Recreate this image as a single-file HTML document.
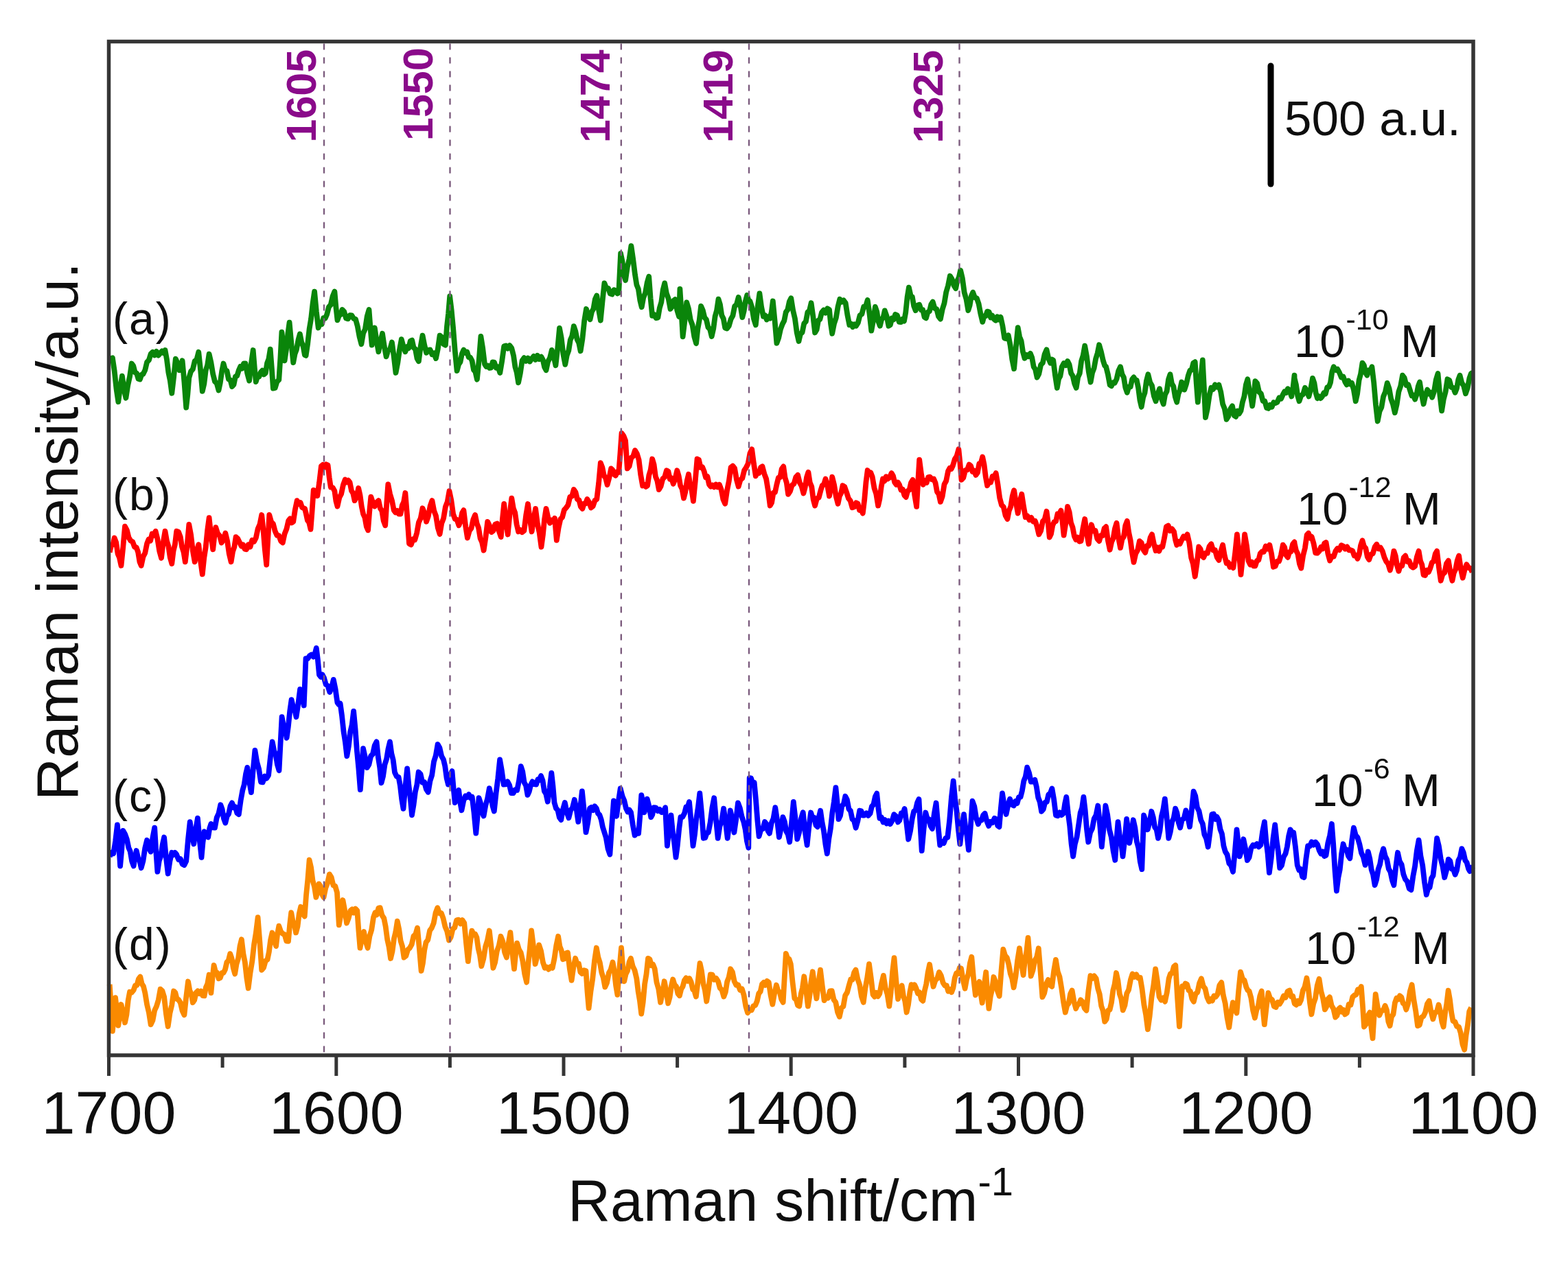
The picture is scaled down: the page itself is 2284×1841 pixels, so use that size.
<!DOCTYPE html>
<html><head><meta charset="utf-8"><title>Raman spectra</title>
<style>html,body{margin:0;padding:0;background:#fff;}svg{display:block;}</style>
</head><body>
<svg width="2284" height="1841" viewBox="0 0 2284 1841">
<rect width="2284" height="1841" fill="#fff"/>
<g>
<path d="M161.1,522.6 L163.9,521.2 L166.7,540.4 L169.5,566.4 L172.3,585.2 L175.1,564.2 L177.9,547.6 L180.6,566.8 L183.4,579.7 L186.2,561.5 L189.0,548.6 L191.8,529.5 L194.2,532.8 L196.7,542.4 L199.1,543.7 L201.5,551.8 L203.9,552.5 L206.2,545.7 L208.5,544.8 L211.3,539.1 L214.1,527.4 L216.9,524.5 L219.6,515.6 L222.4,512.8 L225.2,517.4 L228.0,511.9 L230.8,517.6 L233.6,514.2 L235.9,511.3 L238.2,514.0 L240.5,510.0 L243.0,523.8 L245.4,542.8 L247.8,554.3 L250.3,572.7 L253.1,549.2 L255.8,522.6 L258.6,528.9 L261.4,539.3 L263.5,534.2 L265.6,525.3 L268.4,556.2 L271.2,593.6 L273.3,574.9 L275.3,550.4 L278.1,540.9 L280.9,537.7 L283.7,525.9 L286.5,523.8 L289.3,512.8 L292.1,539.0 L294.8,569.9 L297.3,559.2 L299.7,539.6 L302.2,531.6 L304.6,515.6 L307.4,527.9 L310.2,544.8 L313.0,555.7 L315.7,558.3 L318.5,568.5 L320.8,557.5 L323.2,540.5 L325.5,529.5 L328.0,538.7 L330.5,540.1 L333.0,552.4 L335.5,553.3 L338.0,563.0 L340.5,560.1 L342.9,548.5 L345.3,547.4 L347.8,539.3 L350.2,533.9 L352.6,536.6 L355.1,529.3 L357.5,529.5 L360.3,543.9 L363.1,554.6 L365.9,529.5 L368.7,510.0 L370.8,535.6 L372.8,556.0 L375.2,548.0 L377.5,548.5 L379.8,542.1 L382.1,539.7 L384.4,545.4 L386.8,543.5 L389.1,528.9 L391.4,522.8 L393.7,508.6 L395.8,535.7 L397.9,565.7 L400.7,565.0 L403.5,555.9 L406.3,553.2 L408.4,521.5 L410.4,483.6 L412.5,501.5 L414.6,525.3 L416.9,509.8 L419.3,486.6 L421.6,469.6 L424.4,500.3 L427.2,528.1 L429.6,515.4 L432.0,508.9 L434.5,495.1 L436.9,486.4 L439.2,498.4 L441.6,504.3 L443.9,517.0 L445.6,517.9 L448.1,501.1 L450.6,479.1 L453.1,464.1 L455.6,441.7 L458.1,424.6 L460.9,454.2 L463.7,477.5 L466.2,470.7 L468.7,472.2 L471.2,463.2 L473.7,463.6 L476.2,458.0 L479.0,447.0 L481.8,443.9 L484.6,431.4 L487.4,424.6 L489.4,447.3 L491.5,466.4 L493.9,459.5 L496.2,458.2 L498.5,451.0 L501.3,454.0 L504.1,463.6 L506.9,464.4 L509.6,459.2 L512.4,459.4 L515.2,464.1 L518.0,465.0 L520.8,475.3 L523.6,490.6 L526.4,501.2 L529.1,485.4 L531.9,479.3 L534.7,460.8 L537.5,451.0 L539.6,478.7 L541.7,502.6 L543.8,486.5 L545.8,477.5 L548.6,497.0 L551.4,512.3 L554.2,497.4 L557.0,485.8 L559.8,504.5 L562.6,519.3 L565.3,510.5 L568.1,508.8 L570.9,498.4 L573.7,519.1 L576.5,543.0 L579.3,528.6 L582.1,508.6 L584.8,494.2 L587.6,504.7 L590.4,512.3 L592.9,505.0 L595.3,507.0 L597.7,496.8 L600.2,495.6 L602.6,506.5 L605.0,508.3 L607.5,522.0 L609.9,526.2 L612.7,504.4 L615.5,488.6 L618.3,502.8 L621.1,513.7 L623.8,509.8 L626.6,509.5 L629.4,516.3 L632.2,514.4 L635.0,522.1 L637.8,508.2 L640.6,488.6 L643.3,490.8 L646.1,501.3 L648.9,502.6 L651.0,475.5 L653.1,456.6 L655.2,431.5 L657.6,451.1 L660.1,477.5 L662.8,511.4 L665.6,540.2 L668.1,530.7 L670.5,527.3 L672.9,515.3 L675.4,509.5 L677.8,514.0 L680.3,512.5 L682.7,520.3 L685.1,520.7 L687.6,525.5 L690.0,538.9 L692.4,541.4 L694.9,552.7 L697.7,524.6 L700.4,490.0 L703.2,507.2 L706.0,530.4 L708.3,534.0 L710.7,532.5 L713.0,536.0 L715.3,535.6 L717.6,527.5 L719.9,527.6 L722.7,535.7 L725.5,534.4 L728.3,543.0 L731.2,525.9 L734.2,504.3 L737.0,503.5 L739.7,507.6 L742.5,503.2 L745.3,507.1 L748.1,518.3 L750.4,534.5 L752.7,542.3 L755.1,557.3 L757.9,543.4 L760.6,525.2 L763.4,521.2 L766.2,525.9 L769.0,521.5 L771.8,526.5 L774.6,522.5 L777.4,518.8 L780.1,523.9 L782.9,517.7 L785.7,523.1 L788.5,519.7 L790.8,524.1 L793.1,534.7 L795.5,539.2 L798.2,526.5 L801.0,521.4 L803.8,509.9 L806.6,519.1 L809.4,532.2 L812.2,507.9 L815.0,477.9 L817.7,492.2 L820.5,516.5 L823.3,530.8 L825.8,517.4 L828.3,510.7 L830.8,495.0 L833.3,489.4 L835.8,475.1 L838.3,482.6 L840.7,494.6 L843.2,499.5 L845.6,511.3 L848.4,493.7 L851.2,467.0 L854.0,450.0 L856.7,459.7 L859.5,465.3 L862.0,454.1 L864.4,449.9 L866.8,435.9 L869.3,430.5 L872.1,451.3 L874.8,466.7 L877.6,438.0 L880.4,412.4 L883.2,419.7 L886.0,419.8 L888.8,427.7 L891.6,428.7 L894.3,422.2 L897.1,423.6 L899.2,427.4 L901.3,426.4 L904.1,369.2 L906.4,380.1 L908.7,397.9 L911.1,408.2 L913.8,389.1 L916.6,377.4 L919.4,358.1 L922.2,377.5 L925.0,399.9 L927.4,414.8 L929.9,421.2 L932.3,437.5 L934.7,447.2 L937.3,433.4 L940.0,426.6 L942.6,411.8 L945.2,402.7 L947.6,434.6 L950.1,459.8 L952.8,458.0 L955.6,463.2 L958.4,462.6 L960.8,448.6 L963.3,440.2 L965.7,422.3 L968.2,412.4 L970.9,427.4 L973.7,435.1 L976.5,450.0 L978.8,447.0 L981.2,437.9 L983.5,436.1 L986.3,451.9 L989.1,461.2 L990.4,420.8 L992.5,453.2 L994.6,490.4 L997.4,467.5 L1000.2,440.3 L1003.0,449.7 L1005.8,466.0 L1008.6,473.4 L1011.3,490.5 L1014.1,500.2 L1016.4,478.7 L1018.8,465.8 L1021.1,445.8 L1023.7,451.7 L1026.3,462.5 L1028.9,465.6 L1031.5,476.8 L1034.1,479.4 L1036.7,490.0 L1039.2,478.9 L1041.6,460.8 L1044.0,452.3 L1046.5,435.7 L1048.9,443.4 L1051.3,459.3 L1053.8,464.3 L1056.2,477.5 L1059.0,478.5 L1061.8,474.7 L1064.6,464.9 L1067.4,459.9 L1070.1,446.2 L1072.9,443.6 L1075.7,432.9 L1078.5,444.9 L1081.3,462.2 L1083.6,453.3 L1085.9,438.6 L1088.2,430.1 L1090.3,437.2 L1092.4,438.5 L1095.2,447.1 L1098.0,464.3 L1100.8,473.3 L1103.6,447.5 L1106.4,427.4 L1109.1,447.1 L1111.9,460.8 L1114.4,459.4 L1116.8,465.5 L1119.2,461.4 L1121.7,463.6 L1123.8,454.4 L1125.8,438.5 L1128.6,467.3 L1131.4,499.8 L1134.2,492.2 L1137.0,479.5 L1139.8,471.9 L1142.3,467.1 L1144.8,454.5 L1147.3,451.1 L1149.8,439.2 L1152.3,434.3 L1155.1,451.9 L1157.9,463.8 L1160.7,484.4 L1163.5,497.0 L1166.0,486.2 L1168.6,484.1 L1171.2,471.2 L1173.8,468.4 L1176.4,454.8 L1179.0,452.6 L1181.6,441.3 L1184.3,460.5 L1187.1,484.5 L1189.6,480.3 L1192.0,466.8 L1194.4,465.1 L1196.9,455.2 L1199.7,451.7 L1202.5,455.7 L1205.2,449.3 L1208.0,451.0 L1210.1,471.9 L1212.2,485.8 L1215.0,471.6 L1217.8,463.0 L1220.6,446.5 L1223.3,435.7 L1226.1,439.7 L1228.9,437.5 L1231.7,441.3 L1234.5,459.3 L1237.3,473.3 L1239.7,471.6 L1242.1,476.3 L1244.6,472.3 L1247.0,474.7 L1249.8,470.2 L1252.6,459.3 L1255.4,457.5 L1258.2,446.6 L1260.9,446.6 L1263.7,437.1 L1266.5,456.9 L1269.3,481.7 L1272.1,466.2 L1274.9,446.9 L1277.2,453.7 L1279.5,468.5 L1281.8,474.7 L1284.2,465.1 L1286.5,462.4 L1288.8,452.4 L1291.6,460.5 L1294.4,474.7 L1296.8,473.2 L1299.2,463.5 L1301.7,465.4 L1304.1,458.0 L1306.9,459.3 L1309.7,468.8 L1312.5,469.1 L1314.7,464.9 L1317.0,467.5 L1319.3,454.7 L1321.6,432.7 L1323.9,418.7 L1326.4,429.9 L1328.8,432.3 L1331.2,445.9 L1333.7,452.2 L1336.5,444.7 L1339.2,443.8 L1341.7,451.3 L1344.1,451.1 L1346.6,461.9 L1349.0,463.3 L1351.4,454.7 L1353.9,453.3 L1356.3,443.3 L1358.7,439.6 L1361.5,449.1 L1364.3,450.1 L1367.1,461.0 L1369.9,464.7 L1372.7,450.7 L1375.5,441.6 L1378.2,425.5 L1381.0,416.1 L1383.8,402.0 L1386.6,406.3 L1389.4,415.7 L1392.2,420.1 L1394.5,408.6 L1396.8,403.9 L1399.1,393.7 L1401.9,405.5 L1404.7,426.1 L1407.5,435.7 L1410.3,452.2 L1412.6,444.9 L1414.9,431.1 L1417.2,425.7 L1420.0,433.5 L1422.8,434.2 L1425.6,442.4 L1428.4,457.2 L1431.2,468.9 L1433.5,460.4 L1435.8,460.3 L1438.1,453.6 L1440.6,454.2 L1443.0,462.4 L1445.4,459.7 L1447.9,464.7 L1450.3,466.7 L1452.8,461.2 L1455.2,465.5 L1457.6,461.9 L1460.4,474.5 L1463.2,492.6 L1466.0,493.2 L1468.8,488.4 L1471.6,502.9 L1474.3,523.4 L1477.1,537.1 L1479.9,505.5 L1482.7,477.2 L1485.1,490.3 L1487.6,496.7 L1490.0,512.6 L1492.5,521.8 L1495.2,516.8 L1498.0,519.2 L1500.8,514.8 L1503.2,520.7 L1505.7,534.4 L1508.1,537.9 L1510.6,549.7 L1513.3,544.6 L1516.1,531.4 L1518.9,528.5 L1521.7,515.7 L1524.5,509.3 L1527.3,522.0 L1530.1,528.8 L1532.1,523.4 L1534.2,524.6 L1537.0,546.7 L1539.8,565.0 L1542.1,551.8 L1544.4,547.8 L1546.8,534.3 L1549.6,529.0 L1552.3,532.0 L1555.1,526.0 L1557.6,531.0 L1560.1,543.6 L1562.6,547.5 L1565.2,558.8 L1567.7,565.0 L1570.2,549.4 L1572.7,543.9 L1575.2,525.6 L1577.7,517.7 L1580.2,503.7 L1583.0,519.2 L1585.8,541.5 L1588.6,556.6 L1591.1,542.8 L1593.6,536.4 L1596.1,522.6 L1598.6,514.6 L1601.1,502.3 L1604.0,512.6 L1607.0,525.8 L1609.1,532.3 L1611.1,534.2 L1613.9,545.5 L1616.7,560.7 L1619.0,562.1 L1621.4,557.3 L1623.7,557.9 L1626.5,552.1 L1629.2,540.1 L1632.0,534.2 L1634.5,545.1 L1636.9,549.5 L1639.3,564.5 L1641.8,571.8 L1644.2,563.3 L1646.7,563.3 L1649.1,552.5 L1651.5,549.5 L1653.6,553.1 L1655.7,553.7 L1658.0,564.3 L1660.4,582.8 L1662.7,592.7 L1665.1,579.0 L1667.5,572.2 L1670.0,554.4 L1672.4,545.3 L1675.2,556.9 L1678.0,561.8 L1680.8,576.6 L1683.6,584.3 L1686.4,573.6 L1689.1,566.2 L1691.9,580.6 L1694.7,588.5 L1697.1,574.7 L1699.6,569.9 L1702.0,552.7 L1704.5,545.3 L1706.9,558.6 L1709.3,562.7 L1711.8,577.9 L1714.2,585.7 L1716.5,573.5 L1718.8,567.9 L1721.2,556.5 L1723.3,559.2 L1725.3,567.6 L1728.1,559.0 L1730.9,546.7 L1733.4,539.5 L1735.8,538.7 L1738.2,528.8 L1740.7,527.2 L1742.8,559.4 L1744.8,585.7 L1747.2,562.3 L1749.5,547.5 L1751.8,524.5 L1753.9,564.8 L1756.0,608.0 L1758.8,595.3 L1761.6,576.1 L1764.3,564.8 L1767.1,566.9 L1769.9,560.4 L1772.7,563.7 L1775.5,560.7 L1778.3,571.1 L1781.1,588.5 L1783.8,595.2 L1786.6,610.8 L1789.4,606.2 L1792.2,595.8 L1795.0,591.3 L1797.8,605.2 L1800.2,606.8 L1802.6,598.6 L1805.1,602.4 L1807.5,598.3 L1810.0,585.3 L1812.4,577.4 L1814.8,560.7 L1817.3,552.3 L1819.6,567.1 L1821.9,576.7 L1824.2,591.3 L1826.3,576.1 L1828.4,555.1 L1831.2,558.3 L1834.0,570.9 L1836.8,573.2 L1839.6,584.0 L1842.3,584.2 L1845.1,594.1 L1847.6,594.9 L1850.1,589.7 L1852.6,592.7 L1855.2,586.1 L1857.7,587.1 L1860.4,586.0 L1863.2,579.4 L1866.0,580.8 L1868.8,574.6 L1871.1,570.3 L1873.4,571.9 L1875.8,566.2 L1878.6,569.3 L1881.3,577.4 L1883.4,565.4 L1885.5,546.7 L1885.6,550.9 L1887.9,560.1 L1890.2,576.4 L1892.5,584.3 L1895.3,576.0 L1898.1,574.3 L1900.9,564.8 L1903.7,569.7 L1906.5,577.4 L1909.2,566.8 L1912.0,550.9 L1914.4,557.7 L1916.7,572.4 L1919.0,580.2 L1921.3,577.3 L1923.6,580.1 L1926.0,577.4 L1928.4,572.2 L1930.8,573.6 L1933.3,564.1 L1935.7,563.5 L1938.0,557.2 L1940.4,541.2 L1942.7,534.2 L1945.5,538.9 L1948.2,537.6 L1951.0,542.6 L1953.8,549.5 L1956.6,548.6 L1959.4,556.5 L1961.8,560.3 L1964.3,554.6 L1966.7,559.5 L1969.1,557.9 L1971.9,567.8 L1974.7,584.3 L1977.1,573.6 L1979.6,553.7 L1982.0,544.8 L1984.5,528.6 L1986.8,531.9 L1989.1,543.0 L1991.4,546.7 L1993.7,539.2 L1996.1,540.6 L1998.4,534.2 L2001.2,557.4 L2004.0,589.9 L2006.7,613.6 L2009.5,599.2 L2012.3,593.3 L2015.1,577.4 L2017.9,570.7 L2020.7,557.9 L2023.5,565.7 L2026.2,580.9 L2029.0,588.7 L2031.8,601.1 L2034.6,589.2 L2037.4,570.4 L2040.2,562.2 L2043.0,546.7 L2045.7,550.4 L2048.5,561.1 L2051.3,560.3 L2054.1,569.0 L2056.4,576.3 L2058.7,575.5 L2061.1,581.6 L2063.4,575.0 L2065.7,562.9 L2068.0,556.5 L2070.8,574.4 L2073.6,588.5 L2076.4,575.6 L2079.2,567.6 L2081.5,573.8 L2083.8,571.6 L2086.1,578.8 L2088.9,570.6 L2091.7,553.4 L2094.5,544.0 L2097.3,574.6 L2100.1,598.3 L2102.8,581.5 L2105.6,570.8 L2108.4,552.3 L2111.2,553.9 L2114.0,563.9 L2116.8,564.7 L2119.6,571.8 L2121.9,565.9 L2124.2,553.1 L2126.5,546.7 L2129.3,557.7 L2132.1,561.9 L2134.9,573.2 L2137.7,564.9 L2140.4,550.9 L2142.9,543.9 L2145.3,542.6" fill="none" stroke="#0a850a" stroke-width="7.8" stroke-linejoin="round" stroke-linecap="butt"/>
<path d="M159.7,804.3 L162.1,793.9 L164.4,793.5 L166.7,783.5 L169.2,790.2 L171.6,806.7 L174.0,812.3 L176.5,823.8 L179.2,797.6 L182.0,766.7 L184.8,772.0 L187.6,783.2 L190.4,787.6 L193.2,789.1 L196.0,796.7 L198.7,797.4 L201.1,804.1 L203.4,818.2 L205.7,823.8 L208.5,810.9 L211.3,805.5 L214.1,791.8 L216.6,785.5 L219.1,787.5 L221.6,777.5 L224.1,779.5 L226.6,773.7 L229.4,785.0 L232.2,802.5 L235.0,812.7 L237.7,790.1 L240.5,773.7 L243.0,787.9 L245.4,795.6 L247.8,811.9 L250.3,821.1 L252.6,802.3 L254.9,792.9 L257.2,773.7 L260.0,774.7 L262.8,782.1 L265.1,796.6 L267.5,804.0 L269.8,818.3 L272.6,794.5 L275.3,764.0 L278.1,779.0 L280.9,802.5 L283.7,818.3 L286.5,802.4 L289.3,793.2 L292.1,817.3 L294.8,836.4 L297.3,812.4 L299.7,796.9 L302.2,772.2 L304.6,754.2 L307.4,779.8 L310.2,800.2 L312.3,781.4 L314.3,768.1 L317.1,777.1 L319.9,780.1 L322.7,790.4 L325.5,786.2 L328.3,776.5 L331.1,788.0 L333.8,806.6 L336.6,818.3 L339.0,803.6 L341.3,796.8 L343.6,782.1 L346.4,784.7 L349.2,790.4 L351.6,795.4 L354.0,793.3 L356.5,799.7 L358.9,800.2 L361.7,793.3 L364.5,796.4 L367.3,786.7 L370.1,788.7 L372.8,783.5 L375.6,770.4 L378.4,763.9 L381.2,750.0 L383.5,771.6 L385.8,800.2 L388.2,822.5 L390.3,784.8 L392.3,750.0 L395.1,760.1 L397.9,763.0 L400.7,773.7 L403.5,779.8 L406.3,780.2 L409.1,788.0 L411.8,790.4 L414.6,777.4 L417.4,770.6 L420.2,758.4 L422.5,755.5 L424.8,761.4 L427.2,759.8 L429.9,742.2 L432.7,729.1 L435.2,733.8 L437.6,732.1 L440.0,739.1 L442.5,740.3 L444.0,740.7 L445.6,747.2 L447.9,757.9 L450.2,761.0 L452.5,770.9 L454.6,744.5 L456.7,713.8 L459.5,715.2 L462.3,722.2 L465.1,702.6 L467.9,679.0 L470.3,676.9 L472.7,680.7 L475.2,676.4 L477.6,677.6 L479.7,695.8 L481.8,709.6 L484.6,710.0 L487.4,715.2 L489.4,729.8 L491.5,737.5 L494.3,724.8 L497.1,719.5 L499.9,706.4 L502.7,698.5 L505.0,702.4 L507.3,699.7 L509.6,702.7 L512.0,714.7 L514.3,718.5 L516.6,729.1 L519.4,723.1 L522.2,711.0 L524.5,721.4 L526.8,738.0 L529.1,748.6 L531.5,753.9 L533.8,766.9 L536.1,772.3 L538.2,745.1 L540.3,723.6 L543.1,732.0 L545.8,737.5 L548.6,731.6 L551.4,729.1 L553.9,740.4 L556.3,744.0 L558.7,758.7 L561.2,765.3 L563.3,732.4 L565.3,705.5 L568.1,719.5 L570.9,728.8 L573.7,743.1 L576.1,746.3 L578.6,743.9 L581.0,748.7 L583.5,748.6 L585.8,736.0 L588.1,731.3 L590.4,718.0 L593.2,752.0 L596.0,791.8 L598.8,793.4 L601.6,785.2 L604.3,786.2 L607.1,776.5 L609.9,760.9 L612.7,754.9 L615.5,740.3 L618.3,747.3 L621.1,759.8 L623.8,751.9 L626.6,737.1 L629.4,729.1 L632.2,743.8 L635.0,751.3 L637.8,768.6 L640.6,777.9 L643.3,762.1 L646.1,754.8 L648.9,738.1 L651.7,730.9 L654.5,715.2 L657.3,728.6 L660.1,748.6 L662.8,755.8 L665.6,756.9 L668.4,765.3 L670.7,759.8 L673.1,747.2 L675.4,743.1 L678.2,766.5 L680.9,783.5 L683.7,773.2 L686.5,769.5 L689.3,756.8 L692.1,750.0 L694.6,762.3 L697.1,768.8 L699.6,784.1 L702.1,789.7 L704.6,801.6 L707.4,783.0 L710.2,759.8 L713.0,765.5 L715.8,775.1 L718.6,772.9 L721.3,763.6 L724.1,762.6 L726.9,773.8 L729.7,782.1 L731.9,756.0 L734.2,734.0 L737.0,759.6 L739.7,778.5 L742.5,749.2 L745.3,725.6 L747.8,740.4 L750.2,746.6 L752.6,763.6 L755.1,774.3 L757.9,771.9 L760.6,775.2 L763.4,773.0 L766.2,750.4 L769.0,734.0 L771.8,756.2 L774.6,774.3 L777.4,755.0 L780.1,740.9 L782.9,762.9 L785.7,776.0 L788.5,796.6 L790.8,779.5 L793.1,756.4 L795.5,740.9 L798.2,753.4 L801.0,761.8 L803.4,757.6 L805.7,759.8 L808.0,754.8 L810.8,786.9 L813.6,768.6 L816.4,756.2 L819.1,753.3 L821.9,742.6 L824.7,739.5 L827.5,735.5 L830.3,723.6 L833.1,722.7 L835.8,713.1 L838.4,716.7 L840.9,727.2 L843.4,728.3 L845.9,738.0 L848.4,740.9 L850.7,733.3 L853.0,733.5 L855.3,727.0 L858.1,731.6 L860.9,739.5 L863.7,737.3 L866.5,729.0 L869.3,727.0 L872.1,703.5 L874.8,674.1 L877.3,680.6 L879.7,692.5 L882.2,696.3 L884.6,706.1 L887.4,695.7 L890.2,682.4 L892.3,684.5 L894.3,690.8 L896.7,692.7 L899.0,687.2 L901.3,688.0 L903.4,660.9 L905.5,630.9 L908.3,634.7 L911.1,642.0 L913.8,682.4 L916.6,679.1 L919.4,666.6 L922.2,664.6 L925.0,656.0 L927.8,660.7 L930.6,669.9 L933.3,691.9 L936.1,707.5 L938.4,705.8 L940.8,708.9 L943.1,707.5 L945.4,691.8 L947.7,684.5 L950.1,668.5 L952.5,676.3 L954.9,694.1 L957.4,700.3 L959.8,713.1 L962.6,708.3 L965.4,697.4 L968.2,694.7 L970.9,685.2 L973.4,686.7 L975.8,697.7 L978.3,696.6 L980.7,704.7 L983.5,697.3 L986.3,685.2 L988.7,693.3 L991.1,707.3 L993.6,712.2 L996.0,725.6 L998.3,716.2 L1000.7,700.5 L1003.0,690.8 L1005.3,706.0 L1007.6,714.3 L1009.9,729.8 L1012.7,701.5 L1015.5,668.5 L1018.0,669.8 L1020.5,680.8 L1023.1,680.1 L1025.6,686.4 L1028.0,695.2 L1030.4,694.1 L1032.9,705.5 L1035.3,708.6 L1037.8,706.5 L1040.3,709.4 L1042.8,705.5 L1045.3,709.4 L1047.9,705.8 L1050.6,713.1 L1053.4,727.4 L1056.2,733.7 L1059.0,714.6 L1061.8,700.8 L1064.6,680.8 L1067.4,678.6 L1070.1,682.2 L1072.9,698.4 L1075.7,708.6 L1078.5,698.9 L1081.3,696.6 L1084.1,685.2 L1086.9,680.8 L1089.6,675.4 L1092.4,660.4 L1095.2,654.3 L1098.0,675.4 L1100.8,693.3 L1103.2,687.5 L1105.7,688.9 L1108.1,680.9 L1110.5,679.4 L1113.3,690.1 L1116.1,697.5 L1118.9,714.6 L1121.7,736.5 L1124.1,732.1 L1126.5,717.7 L1129.0,717.0 L1131.4,705.8 L1133.9,695.7 L1136.3,695.4 L1138.7,683.0 L1141.2,679.4 L1143.5,695.6 L1145.8,703.1 L1148.1,719.8 L1150.9,715.6 L1153.7,706.6 L1156.5,704.8 L1159.3,694.9 L1162.1,691.9 L1164.8,702.8 L1167.6,708.0 L1170.4,718.4 L1172.7,709.8 L1175.1,694.9 L1177.4,687.7 L1179.8,703.0 L1182.3,709.1 L1184.7,727.5 L1187.1,736.5 L1189.9,726.1 L1192.7,724.8 L1195.5,714.2 L1197.8,706.9 L1200.1,705.7 L1202.5,697.5 L1205.2,706.9 L1208.0,722.6 L1210.1,711.2 L1212.2,694.7 L1215.0,706.0 L1217.8,723.0 L1220.6,733.7 L1222.9,722.5 L1225.2,718.3 L1227.5,707.2 L1230.3,709.1 L1233.1,717.0 L1235.9,725.9 L1238.7,729.4 L1241.4,739.3 L1244.2,738.3 L1247.0,732.3 L1249.5,733.5 L1251.9,742.9 L1254.3,742.0 L1256.8,747.6 L1259.1,728.8 L1261.4,702.8 L1263.7,685.0 L1266.1,690.5 L1268.4,688.5 L1270.7,694.7 L1273.5,711.0 L1276.3,719.5 L1279.1,736.5 L1281.4,726.6 L1283.7,708.9 L1286.0,697.5 L1288.3,700.7 L1290.7,694.2 L1293.0,697.5 L1295.8,695.6 L1298.6,689.1 L1300.9,692.9 L1303.2,702.5 L1305.5,705.8 L1307.8,702.5 L1310.0,705.8 L1312.4,713.6 L1314.9,712.7 L1317.3,721.3 L1319.7,724.0 L1322.2,714.9 L1324.6,713.6 L1327.1,702.9 L1329.5,698.9 L1332.3,721.3 L1335.1,737.9 L1337.2,701.9 L1339.2,669.6 L1342.0,690.8 L1344.8,705.8 L1347.3,699.7 L1349.7,703.0 L1352.1,695.1 L1354.6,694.7 L1357.4,698.3 L1360.1,697.5 L1362.6,703.6 L1365.0,716.3 L1367.5,719.6 L1369.9,730.9 L1372.7,722.9 L1375.5,705.3 L1378.2,700.5 L1381.0,686.4 L1383.4,681.8 L1385.7,683.0 L1388.0,678.0 L1390.8,668.6 L1393.6,664.3 L1396.4,654.3 L1398.4,674.2 L1400.5,698.9 L1403.3,695.9 L1406.1,684.8 L1408.9,684.5 L1411.7,676.6 L1414.1,678.5 L1416.5,686.9 L1419.0,685.6 L1421.4,691.9 L1423.9,688.5 L1426.3,675.4 L1428.7,674.8 L1431.2,665.5 L1433.5,676.5 L1435.8,694.9 L1438.1,707.2 L1440.6,701.8 L1443.1,702.6 L1445.7,693.7 L1448.2,694.2 L1450.7,689.1 L1453.5,705.7 L1456.2,725.3 L1459.0,735.7 L1461.8,738.3 L1464.6,750.8 L1467.4,756.0 L1469.8,743.8 L1472.3,737.8 L1474.7,722.5 L1477.1,714.2 L1479.9,732.4 L1482.7,747.6 L1485.5,730.6 L1488.3,719.8 L1491.1,738.0 L1493.8,753.2 L1496.6,751.7 L1499.4,757.2 L1502.2,754.0 L1505.0,759.6 L1507.8,758.8 L1510.6,766.8 L1513.3,778.3 L1516.1,773.1 L1518.9,759.5 L1521.7,756.5 L1524.5,744.8 L1526.6,760.5 L1528.7,782.5 L1531.0,777.8 L1533.3,765.1 L1535.6,760.2 L1538.1,759.2 L1540.5,748.5 L1542.9,749.4 L1545.4,743.5 L1547.5,759.4 L1549.6,779.7 L1552.3,762.2 L1555.1,737.9 L1557.6,745.6 L1560.0,761.4 L1562.4,767.8 L1564.9,781.1 L1567.3,786.0 L1569.7,782.6 L1572.2,788.6 L1574.6,788.0 L1577.4,770.1 L1580.2,756.0 L1583.0,776.7 L1585.8,792.2 L1587.9,775.7 L1589.9,764.3 L1592.7,773.4 L1595.5,773.0 L1598.3,784.7 L1601.1,788.0 L1603.6,779.8 L1606.1,780.1 L1608.6,769.6 L1611.1,767.2 L1613.9,787.2 L1616.7,800.7 L1619.2,789.1 L1621.6,784.0 L1624.0,769.9 L1626.5,761.7 L1629.2,783.2 L1632.0,797.9 L1634.5,785.2 L1636.9,781.7 L1639.3,765.3 L1641.8,758.9 L1644.2,775.3 L1646.7,787.2 L1649.1,805.2 L1651.5,818.8 L1654.3,806.2 L1657.1,801.3 L1659.9,788.1 L1662.7,790.7 L1665.5,800.9 L1668.2,804.8 L1670.7,794.9 L1673.1,795.0 L1675.6,783.0 L1678.0,778.4 L1680.8,792.1 L1683.6,802.1 L1686.0,797.2 L1688.4,802.7 L1690.9,796.3 L1693.3,796.5 L1696.1,783.3 L1698.9,767.2 L1701.7,765.5 L1704.5,773.1 L1707.2,770.4 L1710.0,774.2 L1712.1,786.1 L1714.2,793.7 L1716.5,788.7 L1718.8,792.0 L1721.2,786.7 L1724.0,781.2 L1726.7,783.3 L1729.5,778.4 L1732.3,790.6 L1735.1,812.1 L1737.9,821.5 L1740.7,839.7 L1743.5,820.7 L1746.2,796.5 L1748.6,799.7 L1750.9,809.7 L1753.2,811.8 L1756.0,805.5 L1758.8,805.6 L1761.6,795.6 L1764.3,792.3 L1767.1,801.3 L1769.9,801.2 L1772.7,811.6 L1775.5,816.0 L1778.3,803.3 L1781.1,793.7 L1783.8,809.6 L1786.6,820.2 L1789.1,819.3 L1791.5,825.9 L1793.9,822.1 L1796.4,827.1 L1799.2,804.7 L1801.9,778.4 L1804.7,804.3 L1807.5,836.9 L1810.3,810.2 L1813.1,778.4 L1815.9,794.6 L1818.7,817.4 L1821.1,822.4 L1823.5,818.6 L1826.0,824.4 L1828.4,824.3 L1830.8,816.9 L1833.3,815.8 L1835.7,806.1 L1838.2,803.5 L1840.9,803.9 L1843.7,795.4 L1846.5,799.5 L1849.3,793.7 L1852.1,806.6 L1854.9,825.7 L1857.7,824.7 L1860.4,817.3 L1863.2,817.4 L1866.0,808.3 L1868.8,793.7 L1871.1,797.0 L1873.4,808.5 L1875.8,811.8 L1878.2,804.1 L1880.6,803.4 L1883.1,792.4 L1885.5,789.5 L1885.6,791.4 L1888.0,802.0 L1890.4,806.7 L1892.9,821.1 L1895.3,827.6 L1898.1,809.4 L1900.9,798.4 L1903.7,778.9 L1906.0,776.6 L1908.3,783.7 L1910.6,781.7 L1913.4,791.1 L1916.2,805.3 L1919.0,805.5 L1921.8,802.6 L1924.2,796.7 L1926.7,799.3 L1929.1,791.6 L1931.5,790.0 L1934.3,806.2 L1937.1,816.5 L1939.9,810.3 L1942.7,810.6 L1945.5,802.6 L1948.2,798.8 L1951.0,801.0 L1953.8,794.2 L1956.6,795.6 L1959.4,799.5 L1962.2,796.4 L1965.0,801.3 L1967.7,801.2 L1970.2,802.3 L1972.6,809.3 L1975.1,808.7 L1977.5,813.7 L1979.8,807.6 L1982.1,794.2 L1984.5,787.2 L1986.9,795.7 L1989.3,798.6 L1991.8,811.0 L1994.2,815.1 L1997.0,807.5 L1999.8,806.2 L2002.6,796.6 L2005.3,792.8 L2008.1,799.3 L2010.9,797.7 L2013.7,802.6 L2016.5,811.8 L2019.3,817.9 L2022.1,821.4 L2024.8,830.4 L2027.6,819.6 L2030.4,802.6 L2032.7,809.5 L2035.1,823.8 L2037.4,831.8 L2039.8,823.9 L2042.3,824.1 L2044.7,812.2 L2047.1,809.5 L2049.9,817.9 L2052.7,817.1 L2055.5,824.8 L2058.3,826.6 L2061.1,824.8 L2063.8,811.5 L2066.6,802.6 L2069.0,817.0 L2071.3,822.5 L2073.6,837.4 L2076.0,838.0 L2078.5,830.5 L2080.9,833.2 L2083.3,827.6 L2085.8,819.3 L2088.2,817.8 L2090.7,806.8 L2093.1,802.6 L2095.9,826.2 L2098.7,845.7 L2101.4,836.5 L2104.2,834.1 L2107.0,820.9 L2109.8,816.5 L2112.6,833.8 L2115.4,845.7 L2117.8,834.2 L2120.3,829.1 L2122.7,816.5 L2125.1,809.5 L2127.9,828.8 L2130.7,841.6 L2133.5,829.8 L2136.3,822.1 L2139.1,827.0 L2141.8,827.6 L2144.6,833.2" fill="none" stroke="#ff0000" stroke-width="7.8" stroke-linejoin="round" stroke-linecap="butt"/>
<path d="M159.7,1247.4 L162.5,1241.9 L165.3,1243.2 L168.1,1225.3 L170.9,1201.4 L173.0,1228.0 L175.1,1261.3 L177.2,1238.6 L179.2,1209.8 L182.0,1214.6 L184.8,1222.3 L187.3,1234.4 L189.7,1240.1 L192.1,1254.1 L194.6,1261.3 L196.7,1248.3 L198.7,1239.0 L201.1,1249.9 L203.4,1253.6 L205.7,1264.1 L208.5,1253.8 L211.3,1234.9 L214.1,1223.7 L216.9,1235.0 L219.6,1240.4 L222.4,1220.3 L225.2,1205.6 L227.3,1240.5 L229.4,1269.7 L231.8,1253.7 L234.3,1246.8 L236.7,1230.3 L239.1,1219.5 L241.9,1248.8 L244.7,1272.5 L247.5,1254.0 L250.3,1241.8 L252.6,1245.1 L254.9,1241.9 L257.2,1244.6 L260.0,1251.9 L262.8,1250.9 L265.6,1258.5 L268.4,1259.9 L271.2,1254.3 L274.0,1222.6 L276.7,1197.2 L279.5,1215.7 L282.3,1229.3 L285.1,1208.3 L287.9,1191.7 L290.7,1223.6 L293.5,1248.8 L295.5,1226.9 L297.6,1211.2 L300.4,1217.7 L303.2,1219.5 L305.3,1206.4 L307.4,1200.0 L310.2,1205.3 L313.0,1205.6 L315.7,1191.0 L318.5,1184.9 L321.3,1172.2 L323.6,1178.5 L326.0,1192.4 L328.3,1198.6 L330.7,1188.6 L333.1,1185.5 L335.6,1173.8 L338.0,1169.4 L340.5,1176.3 L342.9,1175.4 L345.3,1184.2 L347.8,1186.1 L350.6,1166.1 L353.3,1151.3 L355.7,1142.8 L358.0,1127.5 L360.3,1117.9 L363.1,1138.5 L365.9,1154.1 L368.7,1121.4 L371.4,1092.8 L374.3,1110.1 L377.1,1120.1 L380.0,1138.9 L382.8,1139.4 L385.6,1130.6 L388.4,1133.5 L391.1,1129.2 L393.9,1102.8 L396.7,1080.4 L399.2,1093.5 L401.6,1098.8 L404.0,1113.7 L406.5,1122.2 L408.6,1081.7 L410.6,1044.2 L413.0,1056.6 L415.3,1061.8 L417.6,1074.8 L419.9,1058.2 L422.2,1035.9 L424.6,1019.1 L426.9,1029.2 L429.2,1033.5 L431.5,1044.2 L434.3,1025.6 L437.1,1003.8 L439.9,1012.3 L442.7,1027.5 L445.5,959.2 L448.2,959.3 L451.0,955.1 L453.8,953.5 L456.6,956.5 L458.7,952.1 L460.8,943.9 L462.9,960.8 L465.0,982.9 L467.3,985.9 L469.6,982.7 L471.9,987.1 L474.7,996.9 L477.5,999.0 L480.3,1008.0 L483.1,1001.0 L485.8,989.9 L488.6,1003.8 L491.4,1023.3 L493.5,1026.0 L495.6,1024.7 L498.0,1042.1 L500.5,1065.4 L502.9,1080.6 L505.3,1101.3 L507.8,1087.1 L510.2,1066.1 L512.7,1055.6 L515.1,1035.8 L517.5,1061.4 L520.0,1094.5 L522.4,1119.6 L524.8,1150.1 L526.9,1122.6 L529.0,1090.2 L531.8,1102.5 L534.6,1118.0 L537.4,1113.7 L540.2,1101.1 L543.0,1098.4 L545.7,1085.7 L548.5,1080.4 L550.8,1102.3 L553.2,1117.7 L555.5,1140.3 L558.0,1130.8 L560.5,1113.5 L563.0,1105.8 L565.5,1090.7 L568.0,1080.4 L570.3,1097.5 L572.7,1106.9 L575.0,1125.0 L577.8,1130.9 L580.6,1131.9 L582.9,1144.3 L585.2,1164.1 L587.5,1177.9 L590.3,1146.9 L593.1,1119.4 L595.4,1143.8 L597.7,1162.6 L600.0,1187.1 L602.4,1172.9 L604.9,1153.4 L607.3,1143.2 L609.7,1124.5 L612.5,1127.4 L615.3,1139.6 L618.1,1139.1 L620.9,1149.6 L623.7,1153.7 L626.5,1137.4 L629.2,1129.0 L632.0,1109.2 L634.8,1100.4 L637.6,1084.1 L640.4,1089.2 L643.2,1101.4 L646.0,1106.4 L648.3,1116.2 L650.6,1133.3 L652.9,1142.6 L655.7,1129.6 L658.5,1123.1 L660.6,1148.0 L662.7,1169.0 L665.5,1157.8 L668.2,1150.9 L670.3,1168.7 L672.4,1180.2 L675.2,1166.4 L678.0,1159.3 L680.4,1161.2 L682.9,1157.1 L685.3,1162.2 L687.7,1160.7 L690.5,1183.8 L693.3,1213.6 L695.4,1191.1 L697.5,1162.1 L699.8,1169.0 L702.1,1182.5 L704.5,1188.5 L707.2,1173.5 L710.0,1163.6 L712.8,1148.1 L715.1,1157.5 L717.5,1173.6 L719.8,1181.6 L722.6,1155.0 L725.3,1133.7 L728.1,1106.4 L730.9,1122.5 L733.7,1142.6 L736.5,1142.4 L739.3,1138.4 L742.1,1143.6 L744.8,1155.1 L747.6,1155.2 L750.4,1150.3 L753.2,1150.9 L756.0,1136.9 L758.8,1116.1 L761.2,1123.7 L763.6,1139.6 L766.1,1144.1 L768.5,1157.9 L770.8,1152.8 L773.2,1142.9 L775.5,1138.4 L778.3,1142.2 L781.1,1142.6 L783.4,1135.3 L785.7,1136.3 L788.0,1130.0 L790.5,1136.8 L792.9,1152.3 L795.3,1156.1 L797.8,1167.6 L800.6,1148.2 L803.3,1125.8 L805.4,1144.4 L807.5,1169.0 L810.0,1177.4 L812.4,1179.7 L814.8,1190.5 L817.3,1194.1 L820.1,1178.6 L822.8,1169.0 L825.6,1182.8 L828.4,1191.3 L831.2,1180.0 L834.0,1176.3 L836.8,1164.8 L839.6,1178.2 L842.3,1196.9 L845.1,1177.6 L847.9,1152.3 L850.7,1180.3 L853.5,1212.2 L856.3,1197.8 L859.1,1177.4 L861.5,1175.9 L863.9,1180.1 L866.4,1174.4 L868.8,1177.4 L871.1,1184.8 L873.4,1186.9 L875.8,1194.1 L877.9,1204.5 L880.0,1211.1 L882.8,1220.0 L885.6,1236.3 L888.4,1244.5 L891.1,1204.0 L893.9,1166.5 L896.0,1180.0 L898.1,1188.8 L900.9,1166.8 L903.7,1148.4 L906.5,1159.5 L909.2,1165.7 L912.0,1177.6 L914.4,1182.4 L916.7,1179.6 L919.0,1183.2 L921.8,1201.4 L924.6,1216.6 L927.4,1213.5 L930.1,1213.8 L932.2,1189.3 L934.3,1158.1 L936.4,1168.1 L938.5,1183.2 L940.6,1175.4 L942.7,1163.7 L945.5,1174.7 L948.2,1190.2 L950.3,1186.5 L952.4,1176.2 L955.2,1176.3 L958.0,1181.1 L960.8,1178.8 L963.6,1183.2 L966.4,1182.7 L969.1,1176.2 L971.9,1231.9 L974.7,1206.3 L977.5,1187.4 L979.8,1211.2 L982.1,1226.6 L984.5,1248.7 L986.8,1231.4 L989.1,1208.0 L991.4,1190.2 L994.2,1189.9 L997.0,1184.6 L999.3,1175.6 L1001.6,1176.2 L1004.0,1167.9 L1006.7,1196.7 L1009.5,1231.9 L1012.0,1215.1 L1014.4,1191.6 L1016.8,1176.4 L1019.3,1155.3 L1022.1,1184.8 L1024.8,1220.8 L1027.2,1220.3 L1029.5,1213.3 L1031.8,1212.5 L1034.6,1197.9 L1037.4,1176.5 L1040.2,1162.3 L1043.0,1193.9 L1045.7,1220.8 L1048.5,1203.2 L1051.3,1195.4 L1054.1,1177.6 L1056.9,1197.5 L1059.7,1220.8 L1061.8,1203.9 L1063.8,1180.4 L1066.6,1193.0 L1069.4,1212.5 L1072.2,1193.3 L1075.0,1169.3 L1077.8,1176.9 L1080.6,1189.7 L1083.3,1197.1 L1085.7,1208.2 L1088.0,1225.2 L1090.3,1234.7 L1091.7,1133.1 L1094.0,1133.3 L1096.3,1140.6 L1098.7,1140.0 L1101.0,1164.5 L1103.3,1194.4 L1105.6,1218.0 L1108.4,1208.1 L1111.2,1207.1 L1114.0,1197.1 L1116.3,1199.9 L1118.6,1210.2 L1120.9,1213.8 L1123.7,1198.7 L1126.5,1192.3 L1129.3,1176.2 L1132.1,1195.1 L1134.9,1219.4 L1137.7,1206.4 L1140.4,1190.2 L1142.9,1196.8 L1145.3,1210.9 L1147.8,1215.3 L1150.2,1226.4 L1153.0,1198.8 L1155.8,1167.9 L1158.6,1192.7 L1161.3,1222.2 L1164.1,1212.4 L1166.9,1192.7 L1169.7,1183.2 L1172.6,1210.5 L1175.6,1230.8 L1178.4,1203.6 L1181.1,1183.5 L1183.6,1191.5 L1186.0,1190.9 L1188.5,1201.9 L1190.9,1204.3 L1193.0,1189.3 L1195.1,1180.7 L1197.5,1197.7 L1199.9,1210.0 L1202.4,1229.5 L1204.8,1243.3 L1207.3,1221.6 L1209.8,1206.9 L1212.3,1184.1 L1214.8,1168.1 L1217.4,1147.2 L1219.4,1167.2 L1221.5,1193.2 L1224.0,1188.0 L1226.4,1173.5 L1228.8,1171.3 L1231.3,1159.8 L1233.8,1164.5 L1236.4,1178.3 L1238.9,1181.0 L1241.5,1193.1 L1244.0,1195.0 L1246.6,1205.7 L1249.4,1195.7 L1252.2,1180.7 L1254.5,1181.3 L1256.8,1187.6 L1259.1,1187.6 L1261.9,1184.3 L1264.7,1188.0 L1267.5,1184.8 L1269.9,1174.6 L1272.4,1171.7 L1274.8,1160.5 L1277.2,1155.6 L1279.3,1176.2 L1281.4,1191.8 L1284.0,1190.6 L1286.5,1197.5 L1289.1,1194.2 L1291.6,1199.5 L1294.2,1195.7 L1296.7,1200.2 L1299.5,1195.5 L1302.3,1186.2 L1305.1,1188.9 L1307.9,1197.4 L1310.3,1194.8 L1312.8,1184.5 L1315.2,1185.8 L1317.6,1177.9 L1320.4,1198.6 L1323.2,1222.5 L1326.0,1210.3 L1328.8,1191.8 L1331.2,1181.6 L1333.6,1180.2 L1336.1,1169.2 L1338.5,1164.0 L1340.6,1203.7 L1342.7,1239.2 L1345.5,1207.9 L1348.3,1183.5 L1350.7,1192.6 L1353.1,1193.1 L1355.6,1203.0 L1358.0,1207.1 L1360.8,1185.5 L1363.6,1169.5 L1366.4,1202.4 L1369.2,1230.8 L1371.9,1225.8 L1374.7,1228.1 L1377.5,1220.6 L1380.3,1219.7 L1383.1,1195.3 L1385.9,1161.5 L1388.7,1137.5 L1391.1,1163.2 L1393.5,1181.1 L1396.0,1208.6 L1398.4,1229.4 L1401.2,1205.6 L1404.0,1186.2 L1406.3,1205.5 L1408.6,1217.6 L1410.9,1237.8 L1413.7,1205.4 L1416.5,1166.7 L1419.3,1174.5 L1422.1,1192.0 L1424.9,1200.2 L1427.3,1194.5 L1429.7,1194.7 L1432.2,1187.2 L1434.6,1184.8 L1437.4,1196.0 L1440.2,1203.0 L1443.0,1196.8 L1445.8,1198.1 L1448.6,1191.8 L1450.9,1193.0 L1453.2,1202.4 L1455.5,1204.3 L1457.8,1177.9 L1460.0,1155.3 L1462.8,1173.3 L1465.6,1186.0 L1468.4,1172.4 L1471.1,1163.7 L1473.9,1171.8 L1476.7,1173.5 L1479.2,1167.0 L1481.6,1169.9 L1484.0,1161.1 L1486.5,1160.9 L1488.9,1151.7 L1491.3,1137.5 L1493.8,1131.1 L1496.2,1117.7 L1499.0,1125.5 L1501.8,1138.6 L1504.6,1138.6 L1507.4,1135.8 L1509.8,1145.8 L1512.2,1161.5 L1514.7,1168.0 L1517.1,1181.8 L1519.7,1178.8 L1522.2,1168.9 L1524.8,1167.8 L1527.3,1157.4 L1529.9,1155.4 L1532.4,1148.4 L1535.2,1164.7 L1538.0,1187.4 L1540.8,1188.2 L1543.6,1183.4 L1546.4,1187.0 L1549.1,1184.6 L1551.2,1170.3 L1553.3,1160.9 L1555.8,1184.4 L1558.2,1202.4 L1560.6,1228.9 L1563.1,1247.3 L1565.8,1229.5 L1568.6,1219.0 L1571.4,1199.9 L1573.7,1183.7 L1576.1,1176.7 L1578.4,1160.9 L1580.7,1180.3 L1583.0,1207.8 L1585.3,1226.4 L1588.1,1212.4 L1590.9,1206.9 L1593.7,1192.4 L1596.5,1187.4 L1599.3,1173.5 L1602.1,1200.3 L1604.8,1233.3 L1607.6,1205.4 L1610.4,1173.5 L1613.2,1186.9 L1616.0,1208.4 L1618.8,1219.2 L1621.6,1239.3 L1624.3,1252.8 L1626.4,1223.1 L1628.5,1197.1 L1630.8,1216.4 L1633.2,1228.0 L1635.5,1247.3 L1638.3,1223.3 L1641.1,1193.0 L1643.1,1207.2 L1645.2,1227.8 L1648.0,1213.6 L1650.8,1194.3 L1653.3,1205.6 L1655.8,1225.5 L1658.3,1234.6 L1660.8,1255.0 L1663.3,1266.1 L1666.1,1187.4 L1668.9,1196.0 L1671.7,1208.3 L1674.5,1197.9 L1677.3,1181.8 L1679.7,1190.0 L1682.1,1204.7 L1684.6,1208.1 L1687.0,1220.8 L1689.5,1209.9 L1691.9,1189.0 L1694.3,1179.5 L1696.8,1163.7 L1699.6,1190.6 L1702.3,1220.8 L1704.8,1211.4 L1707.2,1196.9 L1709.7,1191.3 L1712.1,1177.6 L1714.4,1183.9 L1716.7,1197.9 L1719.1,1205.5 L1721.8,1193.8 L1724.6,1192.2 L1727.4,1180.4 L1730.2,1190.3 L1733.0,1204.1 L1735.8,1180.2 L1738.6,1152.6 L1741.2,1159.2 L1743.9,1176.2 L1746.5,1181.3 L1749.2,1194.4 L1751.8,1199.7 L1754.4,1215.6 L1757.1,1221.3 L1759.7,1233.5 L1762.5,1211.9 L1765.3,1186.1 L1767.8,1185.5 L1770.2,1193.2 L1772.6,1189.7 L1775.1,1194.5 L1777.5,1208.0 L1779.9,1214.3 L1782.4,1232.0 L1784.8,1240.4 L1787.6,1244.9 L1790.4,1257.6 L1793.2,1260.5 L1796.0,1269.7 L1798.7,1242.0 L1801.5,1208.4 L1803.6,1226.4 L1805.7,1247.4 L1808.5,1238.3 L1811.3,1222.3 L1814.1,1236.0 L1816.9,1253.0 L1819.6,1248.6 L1822.4,1235.2 L1825.2,1230.7 L1828.0,1232.2 L1830.8,1229.1 L1833.6,1233.3 L1836.4,1230.7 L1839.1,1211.3 L1841.9,1197.2 L1844.2,1224.1 L1846.6,1243.2 L1848.9,1271.1 L1851.7,1249.8 L1854.5,1221.3 L1857.2,1201.4 L1859.6,1224.9 L1861.9,1239.9 L1864.2,1264.1 L1867.0,1260.4 L1869.8,1247.9 L1872.6,1243.2 L1874.9,1233.4 L1877.2,1217.7 L1879.5,1208.4 L1881.9,1212.3 L1884.2,1212.6 L1887.0,1233.7 L1889.7,1259.9 L1892.2,1267.3 L1894.6,1265.8 L1897.1,1276.9 L1899.5,1278.0 L1902.3,1251.9 L1905.1,1232.1 L1907.9,1232.5 L1910.6,1226.4 L1913.4,1230.6 L1916.2,1226.5 L1919.0,1230.0 L1921.8,1239.0 L1924.2,1243.5 L1926.7,1240.4 L1929.1,1247.0 L1931.5,1246.0 L1934.3,1227.9 L1937.1,1216.9 L1939.9,1200.0 L1942.2,1229.7 L1944.5,1267.5 L1946.9,1297.5 L1949.3,1278.5 L1951.7,1266.7 L1954.2,1243.1 L1956.6,1229.3 L1959.0,1237.5 L1961.5,1237.3 L1963.9,1246.5 L1966.4,1250.2 L1969.1,1225.1 L1971.9,1205.6 L1974.7,1216.5 L1977.5,1219.8 L1980.3,1229.3 L1983.1,1242.4 L1985.8,1248.2 L1988.6,1259.9 L1990.7,1253.6 L1992.8,1240.4 L1995.3,1250.6 L1997.7,1266.7 L2000.1,1273.8 L2002.6,1289.2 L2005.1,1281.1 L2007.6,1266.0 L2010.1,1258.9 L2012.6,1244.8 L2015.1,1236.2 L2017.7,1246.9 L2020.2,1252.0 L2022.8,1265.5 L2025.3,1269.7 L2027.9,1281.9 L2030.4,1289.2 L2033.2,1262.9 L2036.0,1241.8 L2038.8,1254.5 L2041.6,1259.3 L2044.3,1273.3 L2047.1,1280.8 L2049.9,1284.1 L2052.7,1294.2 L2055.5,1296.1 L2058.3,1276.4 L2061.1,1261.5 L2063.8,1239.1 L2066.6,1223.7 L2069.4,1246.7 L2072.2,1260.6 L2075.0,1285.0 L2077.8,1303.1 L2080.2,1293.7 L2082.6,1292.6 L2085.1,1279.3 L2087.5,1275.2 L2090.3,1251.3 L2093.1,1220.9 L2095.9,1232.5 L2098.7,1251.2 L2101.4,1261.6 L2104.2,1278.0 L2107.0,1267.6 L2109.8,1251.6 L2112.2,1253.9 L2114.7,1265.7 L2117.1,1266.3 L2119.6,1273.8 L2122.0,1267.6 L2124.4,1253.0 L2126.9,1248.3 L2129.3,1236.2 L2131.7,1241.5 L2134.2,1252.9 L2136.6,1256.3 L2139.1,1265.5 L2141.1,1268.9 L2143.2,1263.5 L2145.3,1266.9" fill="none" stroke="#0000ff" stroke-width="7.8" stroke-linejoin="round" stroke-linecap="butt"/>
<path d="M159.7,1433.7 L161.8,1465.3 L163.9,1501.9 L166.0,1480.7 L168.1,1453.2 L170.2,1471.3 L172.3,1493.6 L174.4,1479.8 L176.5,1463.0 L179.2,1474.7 L182.0,1489.4 L184.4,1478.0 L186.7,1457.0 L189.0,1444.8 L191.8,1445.6 L194.6,1442.1 L197.0,1435.3 L199.4,1435.1 L201.9,1425.8 L204.3,1422.6 L206.6,1432.9 L209.0,1436.7 L211.3,1446.2 L214.1,1463.2 L216.9,1474.9 L219.6,1492.2 L222.4,1486.4 L225.2,1471.6 L228.0,1465.7 L230.8,1456.3 L233.6,1440.7 L236.4,1443.2 L239.1,1451.8 L241.9,1476.4 L244.7,1495.0 L247.5,1475.5 L250.3,1463.8 L253.1,1443.5 L255.4,1446.0 L257.7,1455.1 L260.0,1456.0 L262.8,1460.3 L265.6,1472.4 L268.4,1478.3 L271.2,1452.3 L274.0,1429.5 L276.3,1442.5 L278.6,1447.6 L280.9,1460.2 L283.2,1456.7 L285.6,1445.7 L287.9,1443.5 L290.3,1447.1 L292.8,1443.7 L295.2,1450.1 L297.6,1450.4 L300.0,1437.8 L302.3,1432.8 L304.6,1419.8 L307.4,1446.2 L309.5,1424.1 L311.6,1405.8 L313.9,1415.4 L316.2,1416.7 L318.5,1425.3 L320.8,1424.2 L323.2,1417.0 L325.5,1417.0 L327.9,1412.3 L330.4,1401.5 L332.8,1399.0 L335.2,1389.1 L337.6,1396.1 L339.9,1410.3 L342.2,1418.4 L344.6,1403.7 L347.1,1395.8 L349.5,1377.9 L351.9,1368.2 L354.4,1389.2 L356.8,1401.2 L359.3,1423.9 L361.7,1439.3 L364.5,1417.0 L367.3,1400.2 L370.1,1375.4 L372.8,1358.9 L375.6,1336.2 L378.4,1372.1 L381.2,1412.8 L384.0,1409.5 L386.8,1399.4 L389.6,1397.5 L391.9,1386.2 L394.2,1368.5 L396.5,1358.5 L399.3,1370.2 L402.1,1378.0 L404.2,1359.9 L406.3,1348.7 L409.1,1356.7 L411.8,1359.9 L414.6,1361.1 L417.3,1370.6 L420.0,1370.9 L422.1,1347.2 L424.2,1329.1 L426.5,1341.7 L428.8,1346.3 L431.1,1358.4 L433.5,1349.3 L435.8,1330.6 L438.1,1320.8 L440.9,1331.0 L443.7,1334.7 L446.0,1304.2 L448.3,1281.4 L450.6,1252.5 L453.1,1263.7 L455.5,1282.6 L458.0,1291.5 L460.4,1306.9 L462.5,1298.5 L464.6,1287.4 L466.9,1290.7 L469.2,1302.8 L471.5,1306.9 L474.3,1293.4 L477.1,1286.0 L479.9,1273.4 L482.7,1277.9 L485.5,1289.6 L488.2,1290.4 L491.0,1299.9 L493.8,1347.2 L496.6,1331.3 L499.4,1311.0 L502.2,1325.9 L505.0,1344.5 L507.7,1337.3 L510.5,1326.4 L513.0,1324.4 L515.4,1329.5 L517.8,1323.5 L520.3,1326.4 L522.4,1355.4 L524.5,1380.7 L527.2,1365.8 L530.0,1357.0 L532.8,1371.6 L535.6,1380.7 L538.4,1363.6 L541.2,1354.3 L544.0,1336.1 L546.4,1329.3 L548.8,1332.4 L551.3,1322.6 L553.7,1322.2 L556.5,1333.2 L559.3,1337.5 L561.7,1349.5 L564.2,1368.4 L566.6,1379.2 L569.0,1396.0 L571.5,1385.5 L573.9,1367.4 L576.3,1357.5 L578.8,1341.7 L581.2,1353.4 L583.6,1370.5 L586.1,1378.5 L588.5,1394.6 L591.3,1392.3 L594.1,1383.1 L596.9,1380.7 L599.7,1375.7 L602.5,1363.3 L605.2,1361.2 L608.0,1351.4 L610.8,1381.2 L613.6,1414.1 L615.9,1403.0 L618.2,1384.0 L620.6,1372.3 L623.3,1368.8 L626.1,1355.3 L628.9,1351.4 L631.7,1344.5 L634.5,1329.6 L637.3,1322.2 L640.1,1330.1 L642.8,1329.9 L645.6,1337.5 L648.4,1349.7 L651.2,1356.1 L654.0,1369.5 L656.8,1364.7 L659.6,1352.9 L662.3,1351.0 L665.1,1340.3 L667.9,1339.6 L670.7,1345.4 L673.5,1340.2 L676.3,1344.5 L679.1,1374.4 L681.8,1400.2 L684.6,1374.8 L687.4,1355.6 L689.7,1361.2 L692.1,1360.4 L694.4,1365.3 L696.7,1381.5 L699.0,1391.2 L701.3,1407.1 L704.2,1396.8 L707.1,1379.0 L709.9,1369.9 L712.8,1355.5 L715.6,1380.3 L718.4,1409.8 L721.1,1401.8 L723.9,1385.2 L726.7,1377.7 L729.5,1363.8 L732.3,1371.1 L735.1,1386.9 L737.9,1394.5 L740.6,1374.4 L743.4,1358.2 L746.2,1386.6 L749.0,1411.2 L751.1,1389.4 L753.2,1373.6 L756.0,1383.0 L758.7,1387.5 L761.5,1400.1 L764.3,1418.8 L767.1,1430.7 L769.4,1404.0 L771.7,1382.6 L774.1,1355.5 L776.9,1377.4 L779.6,1404.2 L782.4,1393.2 L785.2,1376.4 L788.0,1385.0 L790.8,1401.2 L793.6,1409.8 L796.4,1408.4 L799.1,1411.8 L801.9,1408.1 L804.7,1409.8 L807.5,1396.1 L810.3,1377.0 L813.1,1363.8 L815.4,1378.4 L817.7,1384.1 L820.0,1397.2 L822.3,1396.3 L824.7,1388.3 L827.0,1387.5 L829.8,1411.0 L832.6,1427.9 L835.3,1408.9 L838.1,1395.8 L840.6,1404.0 L843.0,1403.7 L845.4,1415.8 L847.9,1418.1 L850.7,1413.3 L853.5,1414.0 L855.5,1444.3 L857.6,1468.3 L860.4,1444.5 L863.2,1425.9 L866.0,1399.3 L868.8,1380.5 L871.3,1394.3 L873.8,1401.9 L876.3,1416.4 L878.8,1424.1 L881.3,1437.6 L884.1,1431.3 L886.9,1416.9 L889.7,1412.1 L892.5,1401.4 L894.8,1414.9 L897.1,1435.4 L899.4,1448.8 L902.2,1411.8 L905.0,1380.5 L907.1,1407.2 L909.2,1429.3 L911.6,1418.6 L914.0,1414.0 L916.5,1401.4 L918.9,1395.8 L921.7,1407.4 L924.5,1413.1 L927.3,1425.1 L929.6,1443.8 L931.9,1457.4 L934.2,1476.6 L936.7,1459.7 L939.1,1433.3 L941.5,1419.0 L944.0,1395.8 L946.4,1397.1 L948.9,1406.1 L951.3,1404.9 L953.7,1411.2 L956.5,1430.7 L959.3,1440.5 L962.1,1459.9 L964.9,1446.7 L967.7,1429.3 L970.4,1442.8 L973.2,1461.3 L975.6,1452.5 L977.9,1436.4 L980.2,1426.5 L982.6,1434.4 L985.1,1436.8 L987.5,1447.3 L989.9,1450.2 L992.3,1440.3 L994.6,1436.8 L996.9,1427.9 L999.3,1424.4 L1001.8,1428.8 L1004.2,1425.1 L1006.6,1429.9 L1009.1,1440.9 L1011.5,1443.3 L1013.9,1451.6 L1016.7,1428.8 L1019.5,1402.8 L1021.9,1413.8 L1024.4,1432.8 L1026.8,1441.8 L1029.2,1458.5 L1032.0,1440.7 L1034.8,1419.5 L1037.6,1419.6 L1040.4,1426.9 L1043.2,1424.9 L1046.0,1429.3 L1048.7,1439.0 L1051.5,1441.8 L1054.3,1451.6 L1056.8,1444.8 L1059.2,1429.7 L1061.6,1423.7 L1064.1,1411.2 L1066.9,1415.8 L1069.6,1429.1 L1072.4,1434.8 L1075.2,1434.4 L1078.0,1442.0 L1080.8,1440.4 L1083.6,1449.5 L1086.4,1466.2 L1089.1,1475.2 L1091.9,1471.0 L1094.7,1471.3 L1097.5,1465.2 L1100.3,1464.1 L1102.7,1458.3 L1105.2,1447.1 L1107.6,1444.3 L1110.0,1433.5 L1112.5,1430.9 L1114.9,1434.9 L1117.3,1428.9 L1119.8,1430.7 L1122.6,1449.7 L1125.3,1462.7 L1128.1,1446.8 L1130.9,1434.8 L1133.4,1443.5 L1135.8,1445.0 L1138.2,1455.3 L1140.7,1459.9 L1142.8,1422.4 L1144.8,1388.9 L1147.2,1395.8 L1149.5,1396.8 L1151.8,1404.2 L1154.6,1431.2 L1157.4,1454.3 L1159.7,1455.8 L1162.0,1464.1 L1164.3,1465.5 L1166.7,1447.8 L1169.0,1438.6 L1171.3,1422.3 L1174.1,1441.6 L1176.9,1465.5 L1179.2,1451.5 L1181.5,1429.7 L1183.8,1415.3 L1186.6,1437.5 L1189.4,1454.3 L1192.2,1431.6 L1195.0,1412.6 L1197.8,1436.3 L1200.6,1457.1 L1203.3,1452.0 L1206.1,1453.6 L1208.9,1443.4 L1211.7,1443.2 L1214.5,1455.9 L1217.3,1459.8 L1220.1,1474.3 L1222.8,1480.8 L1225.6,1468.1 L1228.4,1465.7 L1231.2,1449.8 L1234.0,1445.5 L1236.8,1434.8 L1239.2,1426.5 L1241.6,1426.8 L1244.1,1416.6 L1246.5,1412.6 L1249.3,1426.1 L1252.1,1434.2 L1254.9,1451.4 L1257.7,1459.9 L1260.4,1439.2 L1263.2,1424.3 L1266.0,1404.2 L1268.8,1424.7 L1271.6,1448.8 L1274.0,1451.6 L1276.5,1445.9 L1278.9,1451.1 L1281.3,1447.4 L1284.1,1432.5 L1286.9,1420.9 L1289.7,1438.8 L1292.5,1447.9 L1295.3,1465.5 L1297.7,1445.0 L1300.1,1415.3 L1302.5,1395.1 L1305.3,1428.0 L1308.1,1455.0 L1310.9,1443.8 L1313.7,1435.5 L1316.0,1450.9 L1318.3,1458.1 L1320.6,1474.5 L1323.0,1463.4 L1325.3,1445.5 L1327.6,1434.1 L1329.9,1439.0 L1332.2,1434.4 L1334.6,1439.7 L1337.0,1447.1 L1339.4,1445.4 L1341.9,1455.4 L1344.3,1457.8 L1346.8,1443.1 L1349.2,1433.4 L1351.6,1416.6 L1354.1,1404.8 L1356.9,1422.7 L1359.6,1436.9 L1362.4,1427.8 L1365.2,1425.2 L1368.0,1416.0 L1370.8,1420.9 L1373.6,1431.3 L1376.4,1435.5 L1378.8,1435.4 L1381.2,1443.7 L1383.7,1441.1 L1386.1,1445.2 L1388.4,1438.9 L1390.7,1424.6 L1393.1,1417.4 L1395.4,1418.2 L1397.7,1409.7 L1400.0,1410.4 L1402.8,1427.1 L1405.6,1439.7 L1408.0,1426.5 L1410.5,1419.0 L1412.9,1403.0 L1415.3,1393.7 L1418.1,1425.0 L1420.9,1449.4 L1423.7,1437.2 L1426.5,1429.9 L1428.6,1446.9 L1430.7,1460.6 L1433.5,1436.5 L1436.2,1416.0 L1438.3,1445.6 L1440.4,1468.9 L1442.7,1451.7 L1445.1,1441.0 L1447.4,1423.0 L1450.2,1430.1 L1453.0,1443.4 L1455.7,1450.8 L1458.5,1413.7 L1461.3,1382.6 L1464.1,1391.8 L1466.9,1395.1 L1469.3,1404.5 L1471.8,1418.2 L1474.2,1424.8 L1476.6,1438.3 L1479.4,1422.5 L1482.2,1398.5 L1485.0,1381.2 L1487.8,1402.4 L1490.6,1420.2 L1492.9,1398.7 L1495.2,1386.8 L1497.5,1365.8 L1499.6,1392.1 L1501.7,1421.6 L1504.5,1413.3 L1507.3,1398.8 L1510.1,1394.2 L1512.8,1381.2 L1515.6,1415.2 L1518.4,1452.2 L1521.2,1446.5 L1524.0,1433.2 L1526.8,1427.1 L1529.6,1434.9 L1532.3,1436.9 L1535.1,1414.2 L1537.9,1397.9 L1540.7,1415.0 L1543.5,1422.9 L1546.3,1439.7 L1549.1,1459.5 L1551.8,1474.5 L1554.3,1464.4 L1556.7,1461.3 L1559.2,1447.5 L1561.6,1442.5 L1564.4,1458.7 L1567.2,1468.9 L1569.5,1463.2 L1571.8,1462.3 L1574.1,1456.4 L1576.9,1459.0 L1579.7,1468.5 L1582.5,1471.7 L1585.4,1443.2 L1588.4,1421.2 L1591.1,1425.1 L1593.9,1421.5 L1596.7,1425.3 L1599.2,1439.7 L1601.7,1447.8 L1604.2,1465.2 L1606.7,1472.3 L1609.2,1488.0 L1611.7,1484.5 L1614.1,1471.8 L1616.6,1470.5 L1619.0,1460.2 L1621.3,1442.4 L1623.6,1433.7 L1626.0,1417.0 L1628.4,1428.1 L1630.8,1447.6 L1633.3,1454.9 L1635.7,1471.3 L1638.5,1464.1 L1641.3,1446.9 L1644.1,1441.4 L1646.9,1426.9 L1649.6,1418.4 L1652.4,1422.9 L1655.2,1419.4 L1658.0,1424.5 L1660.8,1424.0 L1663.6,1440.5 L1666.4,1463.2 L1669.1,1477.8 L1671.9,1499.2 L1674.7,1479.7 L1677.5,1452.4 L1680.3,1434.9 L1683.1,1411.4 L1685.8,1428.7 L1688.6,1451.8 L1691.4,1456.6 L1694.2,1453.5 L1697.0,1458.8 L1699.8,1445.5 L1702.6,1425.3 L1705.0,1418.1 L1707.4,1417.3 L1709.9,1407.7 L1712.3,1405.8 L1715.1,1453.8 L1717.9,1495.0 L1720.0,1462.8 L1722.1,1436.5 L1724.4,1437.4 L1726.7,1432.5 L1729.0,1433.7 L1731.5,1442.3 L1733.9,1444.0 L1736.3,1454.7 L1738.8,1458.8 L1741.6,1447.3 L1744.3,1445.3 L1747.1,1431.9 L1749.9,1425.3 L1752.7,1436.3 L1755.5,1439.9 L1758.3,1452.4 L1761.1,1458.8 L1763.5,1455.0 L1765.9,1457.5 L1768.4,1450.4 L1770.8,1451.8 L1773.6,1448.1 L1776.4,1434.9 L1779.2,1430.9 L1781.9,1449.7 L1784.7,1461.3 L1787.5,1481.9 L1790.3,1496.4 L1793.1,1475.3 L1795.9,1460.2 L1798.7,1469.8 L1801.4,1475.5 L1804.2,1443.2 L1807.0,1415.6 L1809.8,1425.4 L1812.6,1427.7 L1815.4,1437.9 L1817.5,1442.2 L1819.6,1443.5 L1822.3,1453.1 L1825.1,1471.5 L1827.9,1482.5 L1830.3,1471.3 L1832.8,1465.2 L1835.2,1450.8 L1837.7,1443.5 L1839.7,1470.1 L1841.8,1492.2 L1844.6,1467.5 L1847.4,1446.2 L1850.2,1454.4 L1853.0,1456.1 L1855.8,1465.7 L1858.6,1467.0 L1861.3,1459.7 L1864.1,1462.1 L1866.9,1457.4 L1869.8,1450.5 L1872.6,1452.8 L1875.5,1444.0 L1878.4,1442.6 L1880.8,1451.3 L1883.2,1451.0 L1885.7,1461.6 L1888.1,1463.5 L1890.4,1457.7 L1892.7,1461.5 L1895.1,1456.5 L1897.9,1442.6 L1900.6,1437.2 L1903.4,1424.5 L1905.7,1439.3 L1908.1,1461.3 L1910.4,1477.4 L1913.2,1462.0 L1916.0,1453.9 L1918.7,1435.5 L1921.5,1425.8 L1924.3,1443.8 L1927.1,1454.0 L1929.9,1470.4 L1932.2,1466.3 L1934.5,1454.9 L1936.9,1452.3 L1939.6,1464.7 L1942.4,1469.3 L1945.2,1481.6 L1947.5,1479.3 L1949.9,1469.7 L1952.2,1467.6 L1954.5,1473.8 L1956.8,1470.8 L1959.1,1477.4 L1961.9,1475.3 L1964.7,1462.9 L1967.5,1463.6 L1970.3,1452.0 L1973.1,1449.5 L1975.5,1448.6 L1977.9,1441.3 L1980.4,1441.7 L1982.8,1437.0 L1984.9,1464.3 L1987.0,1495.5 L1989.8,1491.7 L1992.6,1479.4 L1995.3,1474.6 L1997.4,1496.0 L1999.5,1512.2 L2001.6,1478.7 L2003.7,1448.1 L2006.5,1465.6 L2009.3,1478.8 L2012.1,1472.3 L2014.8,1471.5 L2017.6,1464.8 L2020.0,1471.4 L2022.3,1487.8 L2024.6,1494.1 L2027.0,1480.9 L2029.5,1477.2 L2031.9,1460.6 L2034.3,1453.7 L2036.7,1455.4 L2039.0,1450.4 L2041.3,1452.3 L2043.6,1461.1 L2046.0,1462.9 L2048.3,1470.4 L2051.1,1461.6 L2053.8,1444.1 L2056.6,1434.2 L2059.4,1456.2 L2062.2,1472.6 L2065.0,1494.1 L2067.8,1492.9 L2070.6,1481.6 L2073.3,1480.2 L2076.1,1474.6 L2078.9,1462.4 L2081.7,1457.9 L2084.5,1473.4 L2087.3,1484.3 L2090.1,1474.6 L2092.8,1473.7 L2095.6,1463.5 L2097.9,1472.7 L2100.3,1488.0 L2102.6,1495.5 L2104.9,1476.1 L2107.2,1462.6 L2109.6,1442.6 L2111.9,1455.7 L2114.2,1474.7 L2116.5,1487.1 L2119.3,1488.1 L2122.1,1494.9 L2124.9,1495.5 L2127.7,1504.7 L2130.4,1520.9 L2133.2,1528.9 L2135.6,1507.3 L2137.9,1493.2 L2140.2,1473.2 L2143.0,1467.6" fill="none" stroke="#fa8a00" stroke-width="7.8" stroke-linejoin="round" stroke-linecap="butt"/>
<line x1="472.0" y1="63.5" x2="472.0" y2="1534.0" stroke="#7c5c7e" stroke-width="2.4" stroke-dasharray="9 11"/>
<line x1="655.5" y1="63.5" x2="655.5" y2="1534.0" stroke="#7c5c7e" stroke-width="2.4" stroke-dasharray="9 11"/>
<line x1="904.8" y1="63.5" x2="904.8" y2="1534.0" stroke="#7c5c7e" stroke-width="2.4" stroke-dasharray="9 11"/>
<line x1="1091.0" y1="63.5" x2="1091.0" y2="1534.0" stroke="#7c5c7e" stroke-width="2.4" stroke-dasharray="9 11"/>
<line x1="1397.5" y1="63.5" x2="1397.5" y2="1534.0" stroke="#7c5c7e" stroke-width="2.4" stroke-dasharray="9 11"/>
<rect x="158.5" y="60.5" width="1987.5" height="1476.5" fill="none" stroke="#353535" stroke-width="5.5"/>
<line x1="2146.0" y1="1537.0" x2="2146.0" y2="1567.0" stroke="#353535" stroke-width="5"/>
<line x1="1980.4" y1="1537.0" x2="1980.4" y2="1555.0" stroke="#353535" stroke-width="5"/>
<line x1="1814.8" y1="1537.0" x2="1814.8" y2="1567.0" stroke="#353535" stroke-width="5"/>
<line x1="1649.1" y1="1537.0" x2="1649.1" y2="1555.0" stroke="#353535" stroke-width="5"/>
<line x1="1483.5" y1="1537.0" x2="1483.5" y2="1567.0" stroke="#353535" stroke-width="5"/>
<line x1="1317.9" y1="1537.0" x2="1317.9" y2="1555.0" stroke="#353535" stroke-width="5"/>
<line x1="1152.2" y1="1537.0" x2="1152.2" y2="1567.0" stroke="#353535" stroke-width="5"/>
<line x1="986.6" y1="1537.0" x2="986.6" y2="1555.0" stroke="#353535" stroke-width="5"/>
<line x1="821.0" y1="1537.0" x2="821.0" y2="1567.0" stroke="#353535" stroke-width="5"/>
<line x1="655.4" y1="1537.0" x2="655.4" y2="1555.0" stroke="#353535" stroke-width="5"/>
<line x1="489.8" y1="1537.0" x2="489.8" y2="1567.0" stroke="#353535" stroke-width="5"/>
<line x1="324.1" y1="1537.0" x2="324.1" y2="1555.0" stroke="#353535" stroke-width="5"/>
<line x1="158.5" y1="1537.0" x2="158.5" y2="1567.0" stroke="#353535" stroke-width="5"/>
<text x="2146.0" y="1651" font-family="'Liberation Sans', Arial, sans-serif" font-size="88" text-anchor="middle" fill="#0e0e0e">1100</text>
<text x="1814.8" y="1651" font-family="'Liberation Sans', Arial, sans-serif" font-size="88" text-anchor="middle" fill="#0e0e0e">1200</text>
<text x="1483.5" y="1651" font-family="'Liberation Sans', Arial, sans-serif" font-size="88" text-anchor="middle" fill="#0e0e0e">1300</text>
<text x="1152.2" y="1651" font-family="'Liberation Sans', Arial, sans-serif" font-size="88" text-anchor="middle" fill="#0e0e0e">1400</text>
<text x="821.0" y="1651" font-family="'Liberation Sans', Arial, sans-serif" font-size="88" text-anchor="middle" fill="#0e0e0e">1500</text>
<text x="489.8" y="1651" font-family="'Liberation Sans', Arial, sans-serif" font-size="88" text-anchor="middle" fill="#0e0e0e">1600</text>
<text x="158.5" y="1651" font-family="'Liberation Sans', Arial, sans-serif" font-size="88" text-anchor="middle" fill="#0e0e0e">1700</text>
<text x="827" y="1778" font-family="'Liberation Sans', Arial, sans-serif" font-size="86" fill="#0e0e0e">Raman shift/cm<tspan font-size="58" dy="-37">-1</tspan></text>
<text transform="translate(113,1166) rotate(-90)" x="0" y="0" font-family="'Liberation Sans', Arial, sans-serif" font-size="86" fill="#0e0e0e">Raman intensity/a.u.</text>
<text transform="translate(460,207.5) rotate(-90)" font-family="'Liberation Sans', Arial, sans-serif" font-weight="bold" font-size="61" fill="#8a0a8a">1605</text>
<text transform="translate(629.5,205) rotate(-90)" font-family="'Liberation Sans', Arial, sans-serif" font-weight="bold" font-size="61" fill="#8a0a8a">1550</text>
<text transform="translate(887.5,208) rotate(-90)" font-family="'Liberation Sans', Arial, sans-serif" font-weight="bold" font-size="61" fill="#8a0a8a">1474</text>
<text transform="translate(1067,208) rotate(-90)" font-family="'Liberation Sans', Arial, sans-serif" font-weight="bold" font-size="61" fill="#8a0a8a">1419</text>
<text transform="translate(1372.5,208.5) rotate(-90)" font-family="'Liberation Sans', Arial, sans-serif" font-weight="bold" font-size="61" fill="#8a0a8a">1325</text>
<line x1="1851" y1="96" x2="1851" y2="268" stroke="#000" stroke-width="9" stroke-linecap="round"/>
<text x="1871" y="197" font-family="'Liberation Sans', Arial, sans-serif" font-size="71" fill="#0e0e0e">500 a.u.</text>
<text x="164" y="487" font-family="'Liberation Sans', Arial, sans-serif" font-size="66" letter-spacing="2" fill="#0e0e0e">(a)</text>
<text x="164" y="743" font-family="'Liberation Sans', Arial, sans-serif" font-size="66" letter-spacing="2" fill="#0e0e0e">(b)</text>
<text x="164" y="1182" font-family="'Liberation Sans', Arial, sans-serif" font-size="66" letter-spacing="2" fill="#0e0e0e">(c)</text>
<text x="164" y="1397.5" font-family="'Liberation Sans', Arial, sans-serif" font-size="66" letter-spacing="2" fill="#0e0e0e">(d)</text>
<text x="1885" y="520" font-family="'Liberation Sans', Arial, sans-serif" font-size="67" fill="#0e0e0e">10<tspan font-size="43" dx="1" dy="-40">-10</tspan></text>
<text x="2040" y="520" font-family="'Liberation Sans', Arial, sans-serif" font-size="67" fill="#0e0e0e">M</text>
<text x="1889" y="764" font-family="'Liberation Sans', Arial, sans-serif" font-size="67" fill="#0e0e0e">10<tspan font-size="43" dx="1" dy="-40">-12</tspan></text>
<text x="2043" y="764" font-family="'Liberation Sans', Arial, sans-serif" font-size="67" fill="#0e0e0e">M</text>
<text x="1911" y="1174" font-family="'Liberation Sans', Arial, sans-serif" font-size="67" fill="#0e0e0e">10<tspan font-size="43" dx="1" dy="-40">-6</tspan></text>
<text x="2042" y="1174" font-family="'Liberation Sans', Arial, sans-serif" font-size="67" fill="#0e0e0e">M</text>
<text x="1901" y="1404" font-family="'Liberation Sans', Arial, sans-serif" font-size="67" fill="#0e0e0e">10<tspan font-size="43" dx="1" dy="-40">-12</tspan></text>
<text x="2056" y="1404" font-family="'Liberation Sans', Arial, sans-serif" font-size="67" fill="#0e0e0e">M</text>
</g>
</svg>
</body></html>
